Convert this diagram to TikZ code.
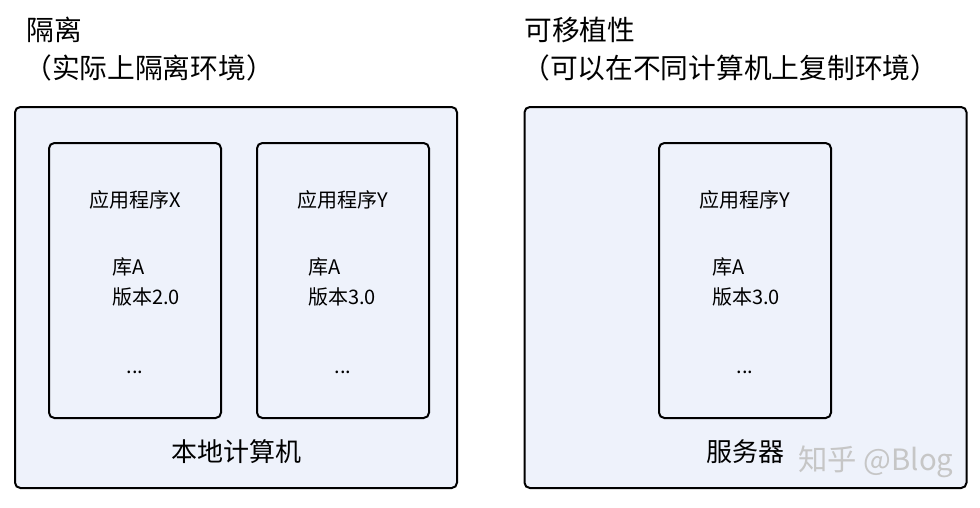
\documentclass[tikz,border=0pt]{standalone}
\usepackage{fontspec}
\setmainfont{Noto Sans CJK SC}
\usepackage{tikz}
\usetikzlibrary{positioning}
\definecolor{boxfill}{RGB}{238,242,251}

\begin{document}
\begin{tikzpicture}[x=0.75pt,y=-0.75pt,
  every node/.style={inner sep=0pt,font=\fontsize{19.5pt}{24pt}\selectfont},
  title/.style={anchor=west,font=\fontsize{20.8pt}{24pt}\selectfont},
  machine/.style={draw,line width=1.5pt,rounded corners=4pt,fill=boxfill,minimum width=331.5pt,minimum height=285.75pt},
  appbox/.style={draw,line width=1.5pt,rounded corners=4pt,fill=boxfill,minimum width=129pt,minimum height=206.25pt},
  small/.style={font=\fontsize{15pt}{22pt}\selectfont}]
\useasboundingbox (0,0) rectangle (980,507);
% titles
\node[title] (t1) at (26,30) {隔离};
\node[title] (s1) at (24,68) {（实际上隔离环境）};
\node[title] (t2) at (524,30) {可移植性};
\node[title] (s2) at (522,68) {（可以在不同计算机上复制环境）};
% local machine
\node[machine] (local) at (236,297.5) {};
\node[appbox] (appx) at (135,280.5) {};
\node[appbox,right=25.5pt of appx] (appy) {};
\node at (236,452) (localname) {本地计算机};
% server
\node[machine] (server) at (745.5,297.5) {};
\node[appbox] (appys) at (745,280.5) {};
\node at (745,452) (servername) {服务器};
% contents of the apps
\node[small] (nx) at (135,200) {应用程序X};
\node[small,anchor=west,align=left] (libx) at (112,282) {库A\\版本2.0};
\node[small] (dx) at (135,372) {...};
\node[small] (ny) at (343,200) {应用程序Y};
\node[small,anchor=west,align=left] (liby) at (308,282) {库A\\版本3.0};
\node[small] (dy) at (343,372) {...};
\node[small] (nys) at (745,200) {应用程序Y};
\node[small,anchor=west,align=left] (libys) at (712,282) {库A\\版本3.0};
\node[small] (dys) at (745,372) {...};
% watermark
\node[text=gray!45,font=\fontsize{22pt}{24pt}\selectfont] (mark) at (876,462) {知乎 @Blog};
\end{tikzpicture}
\end{document}
